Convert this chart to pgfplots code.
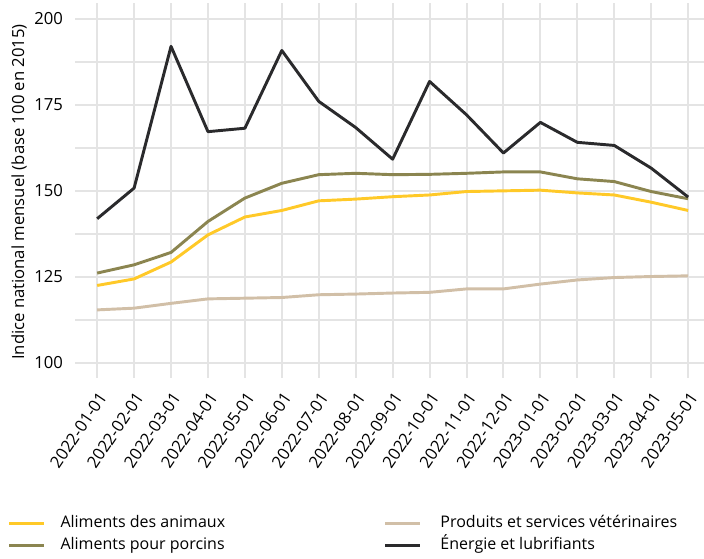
\documentclass[border=0pt]{standalone}
\usepackage{pgfplots}
\pgfplotsset{compat=1.18}
\usepackage{pgfplotstable}
\usepackage{fontspec}
\setmainfont{Open Sans}
\definecolor{cAnim}{HTML}{FFC928}
\definecolor{cPorc}{HTML}{8B8550}
\definecolor{cVet}{HTML}{D1BFA7}
\definecolor{cEner}{HTML}{2A2A2C}
\definecolor{gridc}{HTML}{E4E4E4}
\pgfplotstableread{
x anim porc vet ener
0 122.5 126.1 115.4 141.9
1 124.4 128.5 115.9 150.8
2 129.3 132.1 117.3 192.0
3 137.2 141.1 118.6 167.2
4 142.4 147.9 118.8 168.2
5 144.3 152.2 119.0 190.8
6 147.1 154.7 119.8 176.0
7 147.6 155.1 120.0 168.4
8 148.3 154.7 120.3 159.2
9 148.8 154.8 120.5 181.8
10 149.8 155.1 121.5 172.1
11 150.0 155.5 121.5 161.0
12 150.2 155.5 122.9 169.9
13 149.4 153.5 124.1 164.1
14 148.8 152.7 124.8 163.2
15 146.7 149.8 125.1 156.6
16 144.3 147.7 125.3 148.2
}\datatable
\begin{document}
\begin{tikzpicture}
\begin{axis}[
  name=ax,
  scale only axis,
  width=471.75pt, height=281.25pt,
  xmin=-0.6, xmax=16.43,
  ymin=95.6, ymax=204.6,
  axis line style={draw=none},
  tick style={draw=none},
  xtick={0,...,16},
  xticklabels={2022-01-01,2022-02-01,2022-03-01,2022-04-01,2022-05-01,2022-06-01,2022-07-01,2022-08-01,2022-09-01,2022-10-01,2022-11-01,2022-12-01,2023-01-01,2023-02-01,2023-03-01,2023-04-01,2023-05-01},
  xticklabel shift=8pt,
  x tick label style={rotate=56, anchor=north east, font=\fontsize{12.5}{13}\selectfont, inner sep=1pt},
  ytick={100,125,150,175,200},
  minor ytick={112.5,137.5,162.5,187.5},
  y tick label style={font=\fontsize{12.5}{13}\selectfont, xshift=-5.5pt},
  /pgf/number format/assume math mode=true,
  grid=both,
  major grid style={draw=gridc, line width=1.5pt},
  minor grid style={draw=gridc, line width=1.5pt},
  ylabel={Indice national mensuel (base 100 en 2015)},
  ylabel style={font=\fontsize{12.5}{13}\selectfont, at={(axis description cs:-0.089,0.496)}, anchor=center},
  legend columns=2,
  legend cell align=left,
  legend style={draw=none, fill=none, at={(axis description cs:-0.1076,-0.3594)}, anchor=north west,
    font=\fontsize{12}{13}\selectfont, row sep=0.8pt, inner sep=0pt,
    nodes={text height=9pt, text depth=2.7pt, inner sep=2pt},
    /tikz/column 1/.style={column sep=9.5pt},
    /tikz/column 2/.style={column sep=117pt},
    /tikz/column 3/.style={column sep=12.25pt}},
  legend image code/.code={\draw[#1, line width=2.2pt] (0pt,0pt) -- (26pt,0pt);},
  every axis plot/.append style={line width=2.2pt, line join=round},
]
\addplot[cAnim] table[x=x,y=anim]{\datatable};
\addlegendentry{Aliments des animaux}
\addplot[cVet] table[x=x,y=vet]{\datatable};
\addlegendentry{Produits et services vétérinaires}
\addplot[cPorc] table[x=x,y=porc]{\datatable};
\addlegendentry{Aliments pour porcins}
\addplot[cEner] table[x=x,y=ener]{\datatable};
\addlegendentry{Énergie et lubrifiants}
\end{axis}
\pgfresetboundingbox
\path[use as bounding box] ([xshift=-56.25pt, yshift=-135pt]ax.south west) rectangle ([yshift=2.25pt]ax.north east);
\end{tikzpicture}
\end{document}
